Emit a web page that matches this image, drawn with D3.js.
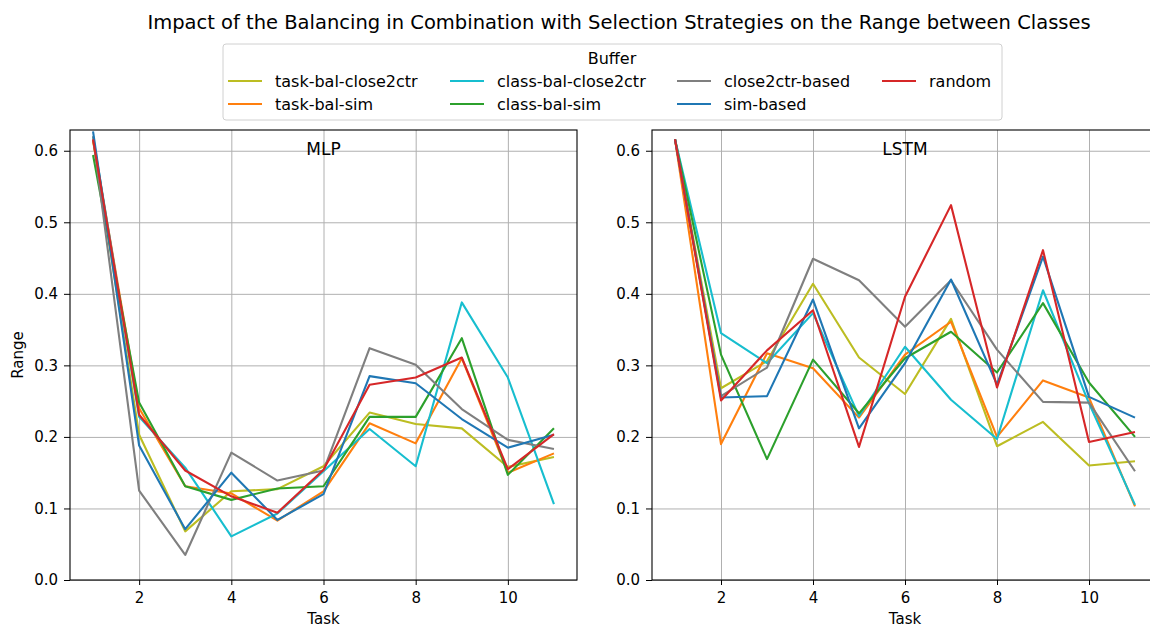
<!DOCTYPE html>
<html lang="en">
<head>
<meta charset="utf-8">
<style>
  body { margin: 0; background: #fff; }
  text { font-family: "DejaVu Sans", sans-serif; }
  .grid line { stroke: #b0b0b0; stroke-width: 1; }
  .grid path { display: none; }
</style>
</head>
<body>
<script src="https://cdn.jsdelivr.net/npm/d3@7"></script>
<script>
// data
var tasks = [1, 2, 3, 4, 5, 6, 7, 8, 9, 10, 11];
var names = ["task-bal-close2ctr", "task-bal-sim", "class-bal-close2ctr", "class-bal-sim",
             "close2ctr-based", "sim-based", "random"];
var colors = ["#bcbd22", "#ff7f0e", "#17becf", "#2ca02c", "#7f7f7f", "#1f77b4", "#d62728"];
var xTicks = [2, 4, 6, 8, 10];
var yTicks = [0.0, 0.1, 0.2, 0.3, 0.4, 0.5, 0.6];

var mlp = [
  [0.615, 0.203, 0.068, 0.124, 0.127, 0.159, 0.234, 0.218, 0.212, 0.158, 0.172],
  [0.615, 0.240, 0.131, 0.121, 0.083, 0.124, 0.219, 0.191, 0.310, 0.150, 0.177],
  [0.620, 0.228, 0.157, 0.061, 0.093, 0.152, 0.211, 0.159, 0.388, 0.283, 0.106],
  [0.594, 0.248, 0.131, 0.112, 0.128, 0.131, 0.228, 0.228, 0.338, 0.147, 0.212],
  [0.620, 0.125, 0.035, 0.178, 0.139, 0.153, 0.324, 0.301, 0.239, 0.196, 0.183],
  [0.627, 0.188, 0.071, 0.150, 0.084, 0.120, 0.285, 0.275, 0.225, 0.185, 0.203],
  [0.616, 0.231, 0.153, 0.117, 0.094, 0.154, 0.273, 0.283, 0.311, 0.155, 0.204]
];
var lstm = [
  [0.616, 0.268, 0.306, 0.414, 0.311, 0.260, 0.365, 0.187, 0.221, 0.160, 0.166],
  [0.616, 0.190, 0.317, 0.296, 0.227, 0.315, 0.361, 0.200, 0.279, 0.255, 0.103],
  [0.616, 0.345, 0.303, 0.373, 0.229, 0.326, 0.252, 0.197, 0.405, 0.247, 0.105],
  [0.616, 0.315, 0.169, 0.308, 0.233, 0.310, 0.347, 0.290, 0.387, 0.276, 0.200],
  [0.616, 0.257, 0.297, 0.449, 0.419, 0.354, 0.419, 0.322, 0.249, 0.248, 0.152],
  [0.616, 0.255, 0.257, 0.392, 0.212, 0.303, 0.420, 0.273, 0.452, 0.256, 0.227],
  [0.616, 0.251, 0.321, 0.377, 0.186, 0.396, 0.524, 0.269, 0.461, 0.193, 0.207]
];

var W = 1150, H = 628;
var svg = d3.select("body").append("svg").attr("width", W).attr("height", H);

svg.append("text").attr("x", 619).attr("y", 29).attr("text-anchor", "middle")
  .style("font-size", "19.5px").text("Impact of the Balancing in Combination with Selection Strategies on the Range between Classes");

var plotTop = 130, plotBottom = 580;
var panels = [
  {label: "MLP", left: 70, right: 577, data: mlp},
  {label: "LSTM", left: 652, right: 1158, data: lstm}
];

panels.forEach(function(p) {
  var x = d3.scaleLinear().domain([0.5, 11.5]).range([p.left, p.right]);
  var y = d3.scaleLinear().domain([0, 0.629]).range([plotBottom, plotTop]);
  var g = svg.append("g");

  // grid
  g.append("g").attr("class", "grid").attr("transform", "translate(0," + plotBottom + ")")
    .call(d3.axisBottom(x).tickValues(xTicks).tickSize(-(plotBottom - plotTop)).tickFormat(""));
  g.append("g").attr("class", "grid").attr("transform", "translate(" + p.left + ",0)")
    .call(d3.axisLeft(y).tickValues(yTicks).tickSize(-(p.right - p.left)).tickFormat(""));

  // lines
  var line = d3.line().x(function(d, i) { return x(tasks[i]); }).y(function(d) { return y(d); });
  p.data.forEach(function(s, k) {
    g.append("path").datum(s).attr("d", line).attr("fill", "none")
      .attr("stroke", colors[k]).attr("stroke-width", 2.1).attr("stroke-linejoin", "round");
  });

  // frame
  g.append("rect").attr("x", p.left).attr("y", plotTop).attr("width", p.right - p.left)
    .attr("height", plotBottom - plotTop).attr("fill", "none").attr("stroke", "#000").attr("stroke-width", 1.1);

  // axes
  var xa = g.append("g").attr("transform", "translate(0," + plotBottom + ")")
    .call(d3.axisBottom(x).tickValues(xTicks).tickSize(5).tickPadding(7).tickFormat(d3.format("d")));
  var ya = g.append("g").attr("transform", "translate(" + p.left + ",0)")
    .call(d3.axisLeft(y).tickValues(yTicks).tickSize(6).tickPadding(6).tickFormat(d3.format(".1f")));
  [xa, ya].forEach(function(a) {
    a.select(".domain").remove();
    a.selectAll("text").style("font-size", "15px").attr("fill", "#000").style("font-family", "DejaVu Sans");
    a.selectAll("line").attr("stroke", "#000");
  });

  g.append("text").attr("x", x(6)).attr("y", 155).attr("text-anchor", "middle")
    .style("font-size", "17px").text(p.label);
  g.append("text").attr("x", x(6)).attr("y", 624).attr("text-anchor", "middle")
    .style("font-size", "15px").text("Task");
});

svg.append("text").attr("transform", "translate(23,355) rotate(-90)").attr("text-anchor", "middle")
  .style("font-size", "15px").text("Range");

// legend
var lg = svg.append("g");
lg.append("rect").attr("x", 223).attr("y", 44).attr("width", 779).attr("height", 76)
  .attr("rx", 3).attr("fill", "#fff").attr("stroke", "#d0d0d0").attr("stroke-width", 1);
lg.append("text").attr("x", 612).attr("y", 64).attr("text-anchor", "middle")
  .style("font-size", "16px").text("Buffer");
var colX = [228, 450, 677, 882];
names.forEach(function(n, k) {
  var c = Math.floor(k / 2), r = k % 2;
  var yy = 81 + r * 23;
  lg.append("line").attr("x1", colX[c]).attr("x2", colX[c] + 34).attr("y1", yy).attr("y2", yy)
    .attr("stroke", colors[k]).attr("stroke-width", 2.1);
  lg.append("text").attr("x", colX[c] + 47).attr("y", yy + 6)
    .style("font-size", "16px").text(n);
});
</script>
</body>
</html>
